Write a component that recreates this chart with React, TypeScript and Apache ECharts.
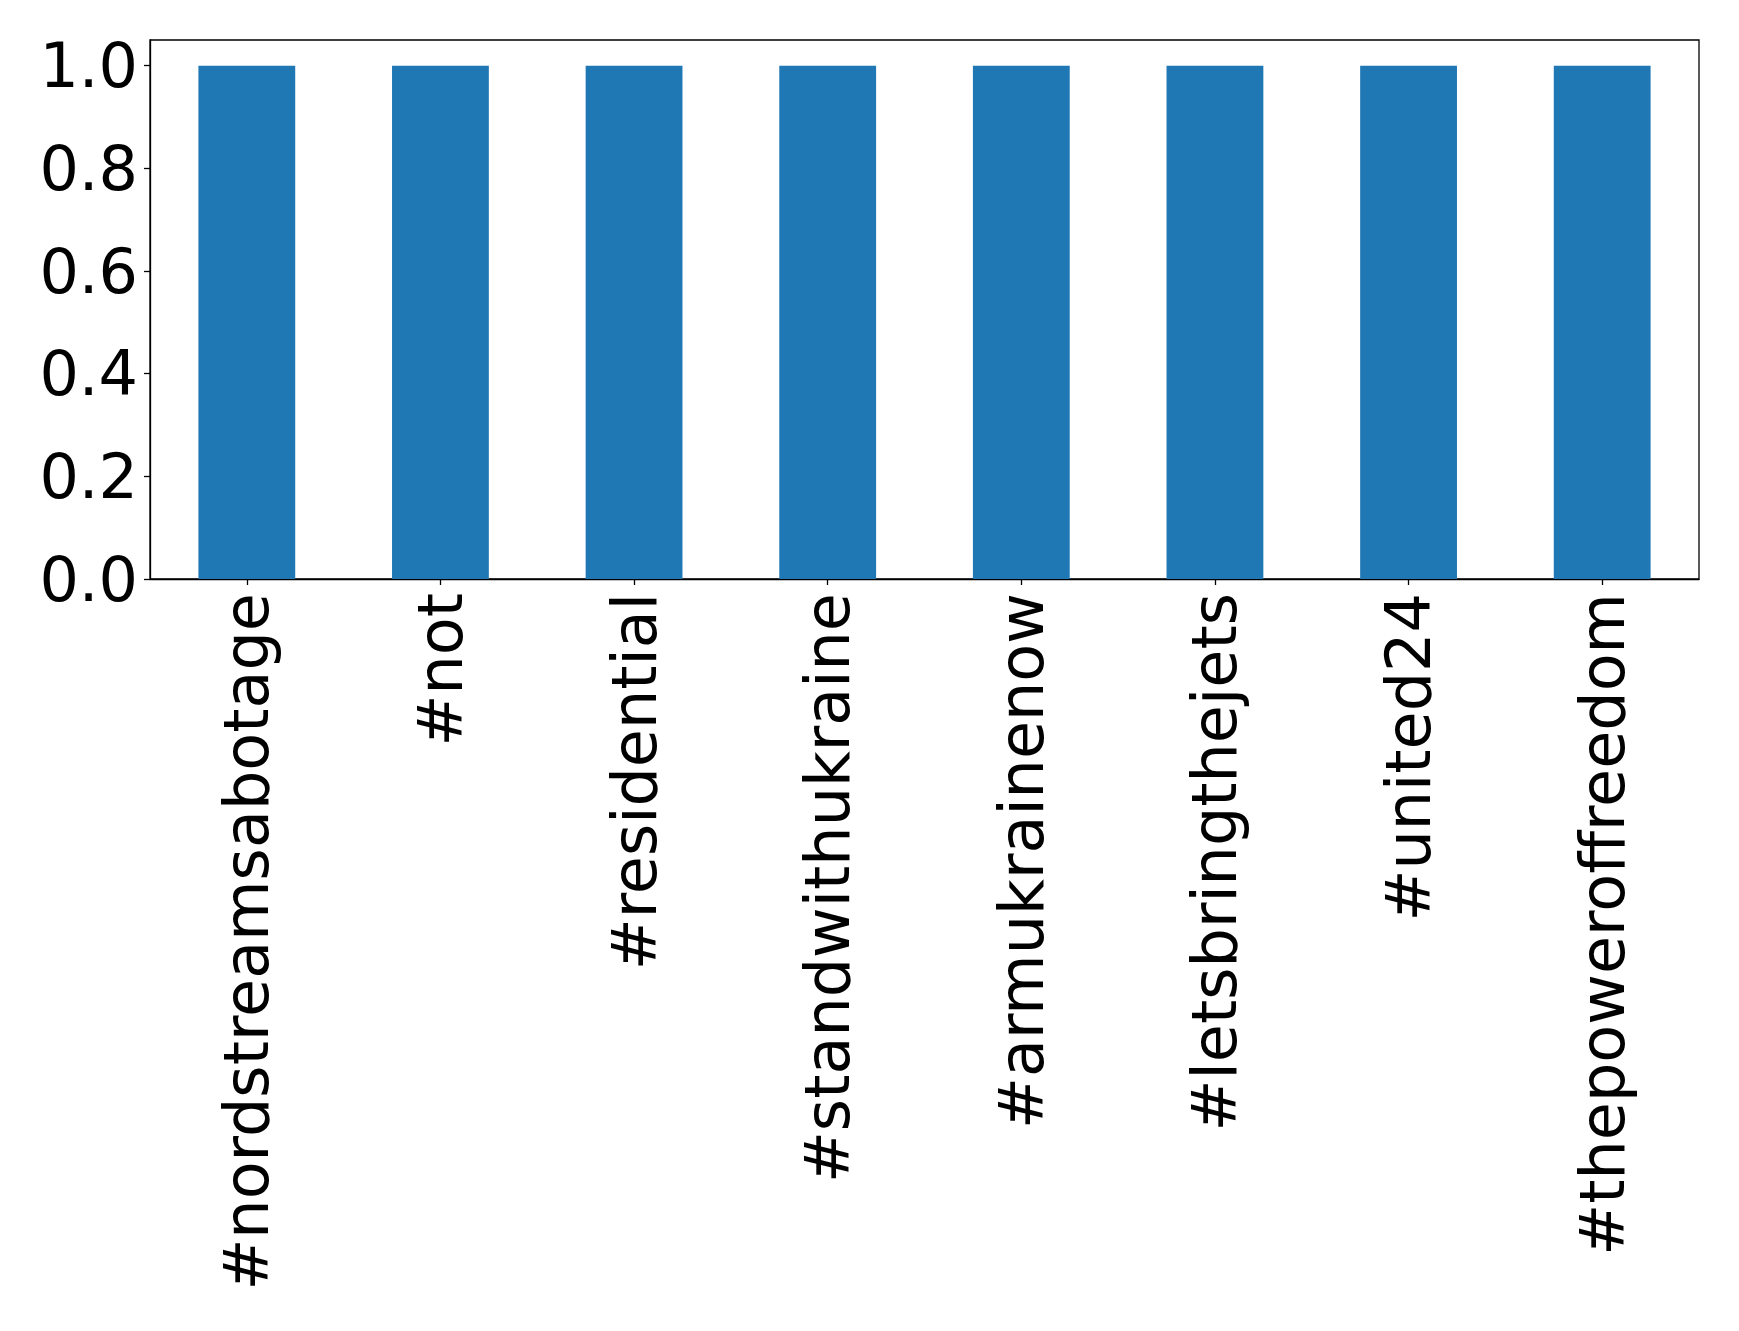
import React, { useEffect, useRef } from "react";
import * as echarts from "echarts";

const categories = [
  "#nordstreamsabotage",
  "#not",
  "#residential",
  "#standwithukraine",
  "#armukrainenow",
  "#letsbringthejets",
  "#united24",
  "#thepoweroffreedom",
];
const values = [1, 1, 1, 1, 1, 1, 1, 1];
const yTicks = [0, 0.2, 0.4, 0.6, 0.8, 1.0];

export default function App() {
  const ref = useRef<HTMLDivElement>(null);
  useEffect(() => {
    if (!ref.current) return;
    const chart = echarts.init(ref.current, null, { renderer: "svg" });
    const font = "DejaVu Sans";
    chart.setOption({
      animation: false,
      backgroundColor: "#ffffff",
      grid: {
        left: 150,
        top: 40,
        right: 40,
        bottom: 752,
        show: true,
        borderColor: "#000000",
        borderWidth: 1.3,
        backgroundColor: "transparent",
      },
      xAxis: {
        type: "category",
        data: categories,
        boundaryGap: true,
        axisLine: { show: true, lineStyle: { color: "#000", width: 1.3 } },
        axisTick: {
          show: true,
          alignWithLabel: true,
          length: 6,
          lineStyle: { color: "#000", width: 1.3 },
        },
        axisLabel: {
          rotate: 90,
          interval: 0,
          margin: 14,
          color: "#000",
          fontFamily: font,
          fontSize: 62,
        },
        splitLine: { show: false },
      },
      yAxis: {
        type: "value",
        min: 0,
        max: 1.05,
        interval: 0.2,
        axisLine: { show: true, lineStyle: { color: "#000", width: 1.3 } },
        axisTick: {
          show: true,
          length: 6,
          customValues: yTicks,
          lineStyle: { color: "#000", width: 1.3 },
        },
        axisLabel: {
          customValues: yTicks,
          margin: 12,
          color: "#000",
          fontFamily: font,
          fontSize: 62,
          formatter: (v: number) => v.toFixed(1),
        },
        splitLine: { show: false },
      },
      series: [
        {
          type: "bar",
          data: values,
          barWidth: "50%",
          itemStyle: { color: "#1f77b4" },
        },
      ],
    });
    return () => chart.dispose();
  }, []);
  return (
    <div
      ref={ref}
      style={{ position: "absolute", left: 0, top: 0, width: 1739, height: 1331 }}
    />
  );
}
